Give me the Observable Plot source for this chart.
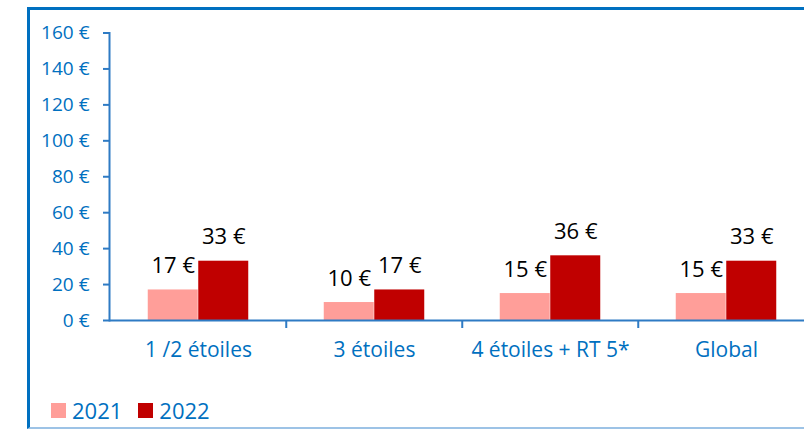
<!DOCTYPE html>
<html>
<head>
<meta charset="utf-8">
<script src="https://cdn.jsdelivr.net/npm/d3@7"></script>
<script src="https://cdn.jsdelivr.net/npm/@observablehq/plot@0.6"></script>
<style>
  html, body { margin: 0; padding: 0; background: #fff; overflow: hidden; }
  #wrap { position: relative; width: 804px; height: 433px; font-family: "Open Sans", sans-serif; }
  #frame { position: absolute; left: 27px; top: 7px; width: 800px; height: 422px;
           border-left: 3px solid #0070C0; border-top: 3px solid #0070C0; border-bottom: 2px solid #9DC3E6; box-sizing: border-box; }
  #chart { position: absolute; left: 0; top: 0; }
  #legend { position: absolute; left: 51px; top: 395px; display: flex; align-items: center; gap: 6px;
            font-size: 22px; color: #0070C0; }
  #legend .sw { width: 15px; height: 15px; display: inline-block; }
  #legend .item { display: flex; align-items: center; gap: 6px; margin-right: 10px; }
</style>
</head>
<body>
<div id="wrap">
  <div id="frame"></div>
  <div id="chart"></div>
  <div id="legend"></div>
</div>
<script>
const categories = ["1 /2 étoiles", "3 étoiles", "4 étoiles + RT 5*", "Global"];
const years = ["2021", "2022"];
const values2021 = [17, 10, 15, 15];
const values2022 = [33, 17, 36, 33];
const yTicks = [0, 20, 40, 60, 80, 100, 120, 140, 160];
const colors = ["#FF9E99", "#C00000"];

const rows2021 = categories.map((c, i) => ({category: c, year: years[0], value: values2021[i]}));
const rows2022 = categories.map((c, i) => ({category: c, year: years[1], value: values2022[i]}));

const blue = "#0070C0";
const axisBlue = "#2E7BC4";
const bandW = 176.5, half = bandW / 2, barW = 50.5;

const chart = Plot.plot({
  width: 804,
  height: 433,
  marginLeft: 109,
  marginRight: 0,
  marginTop: 32.5,
  marginBottom: 113,
  style: {fontFamily: "Open Sans, sans-serif", background: "transparent", overflow: "visible"},
  x: {domain: categories, range: [109, 109 + 4 * bandW], padding: 0},
  y: {domain: [0, 160], range: [320, 32.5]},
  marks: [
    Plot.barY(rows2021, {x: "category", y: "value", fill: colors[0], insetLeft: half - barW, insetRight: half}),
    Plot.barY(rows2022, {x: "category", y: "value", fill: colors[1], insetLeft: half, insetRight: half - barW}),
    Plot.text(rows2021, {x: "category", y: "value", text: d => `${d.value} €`, dx: -barW / 2, dy: -24, fontSize: 22, fill: "#000"}),
    Plot.text(rows2022, {x: "category", y: "value", text: d => `${d.value} €`, dx: barW / 2, dy: -24, fontSize: 22, fill: "#000"}),
    Plot.axisY({ticks: yTicks, tickFormat: d => `${d} €`, tickSize: 6, tickPadding: 14, fontSize: 19, color: blue, stroke: axisBlue, strokeWidth: 2, strokeOpacity: 1, label: null}),
    Plot.frame({anchor: "left", stroke: axisBlue, strokeWidth: 2}),
    Plot.axisX({tickSize: 0, tickPadding: 22, fontSize: 21, color: blue, label: null}),
    Plot.axisX({ticks: categories.slice(1), tickSize: 8, dx: -half, tickFormat: () => "", stroke: axisBlue, strokeWidth: 2, strokeOpacity: 1, label: null}),
    Plot.ruleY([0], {stroke: axisBlue, strokeWidth: 2})
  ]
});
document.getElementById("chart").appendChild(chart);

const legend = document.getElementById("legend");
years.forEach((y, i) => {
  const item = document.createElement("span");
  item.className = "item";
  const sw = document.createElement("span");
  sw.className = "sw";
  sw.style.background = colors[i];
  const t = document.createElement("span");
  t.textContent = y;
  item.appendChild(sw);
  item.appendChild(t);
  legend.appendChild(item);
});
</script>
</body>
</html>
